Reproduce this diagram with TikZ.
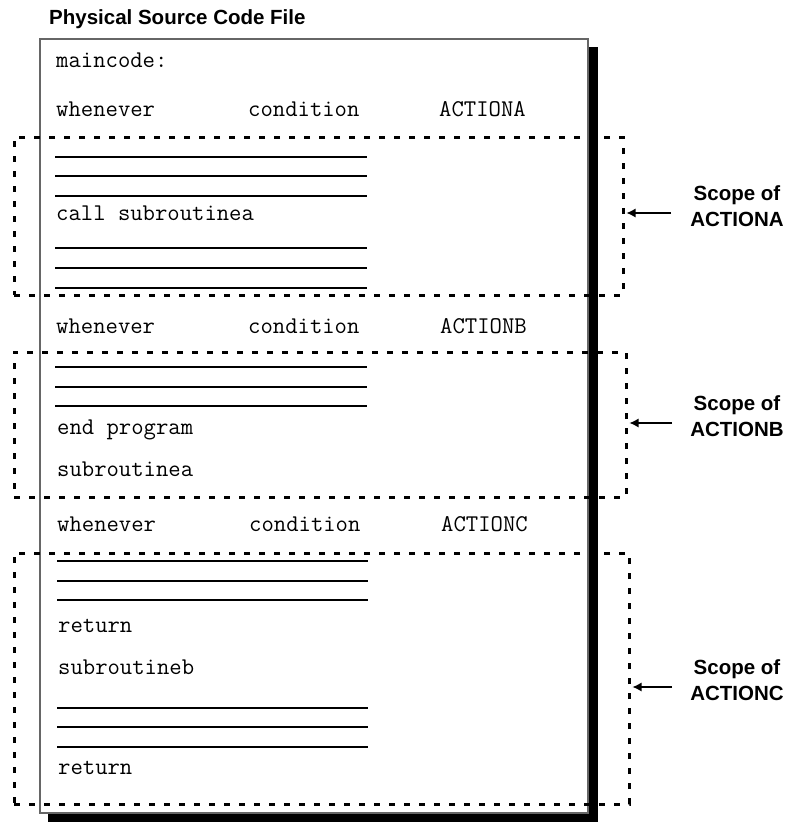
\documentclass[tikz,border=0pt]{standalone}
\usepackage{fontspec}
\setmainfont{Liberation Sans}
\usetikzlibrary{arrows.meta}
\begin{document}
\begin{tikzpicture}[x=1pt,y=-1pt,
  code/.style={font=\ttfamily\fontsize{24}{28}\selectfont, anchor=base west, inner sep=0pt},
  lbl/.style={font=\bfseries\fontsize{20.5}{26}\selectfont, anchor=base, inner sep=0pt},
  rule/.style={line width=1.8pt},
  filebox/.style={draw=black!60, fill=white, line width=1.4pt, inner sep=0pt},
  scopebox/.style={draw, line width=3pt, dash pattern=on 6pt off 9pt, inner sep=0pt},
  pointer/.style={line width=1.2pt, -{Latex[length=9pt,width=9pt]}, shorten >=2pt}
]
\useasboundingbox (0,0) rectangle (790,823);

% title
\node[lbl, anchor=base west] (title) at (49,24) {Physical Source Code File};

% file page with drop shadow
\fill (48,47) rectangle (598,822);
\node[filebox, minimum width=548pt, minimum height=774pt] (file) at (314,426) {};

% scope regions
\node[scopebox, minimum width=609pt, minimum height=158pt] (scA) at (318.5,216) {};
\node[scopebox, minimum width=612pt, minimum height=145pt] (scB) at (320,424.5) {};
\node[scopebox, minimum width=615pt, minimum height=251pt] (scC) at (321.5,678.5) {};

% code listing
\node[code] (mc) at (56,67) {maincode:};

\node[code] (wA) at (56,116) {whenever};
\node[code] (cA) at (248,116) {condition};
\node[code] (aA) at (439,116) {ACTIONA};
\foreach \y in {157,176,196} \draw[rule] (55,\y) -- (367,\y);
\node[code] (callA) at (56,220) {call subroutinea};
\foreach \y in {248,268,288} \draw[rule] (55,\y) -- (367,\y);

\node[code] (wB) at (56,333) {whenever};
\node[code] (cB) at (248,333) {condition};
\node[code] (aB) at (440,333) {ACTIONB};
\foreach \y in {367,387,406} \draw[rule] (55,\y) -- (367,\y);
\node[code] (endp) at (57,434) {end program};
\node[code] (subA) at (57,476) {subroutinea};

\node[code] (wC) at (57,531) {whenever};
\node[code] (cC) at (249,531) {condition};
\node[code] (aC) at (441,531) {ACTIONC};
\foreach \y in {561,581,600} \draw[rule] (57,\y) -- (368,\y);
\node[code] (ret1) at (58,632) {return};
\node[code] (subB) at (58,674) {subroutineb};
\foreach \y in {708,727,747} \draw[rule] (57,\y) -- (368,\y);
\node[code] (ret2) at (58,774) {return};

% scope labels and pointers
\node[lbl] (labA1) at (737,200) {Scope of};
\node[lbl] (labA2) at (737,226) {ACTIONA};
\coordinate (tailA) at (671,213);
\draw[pointer] (tailA) -- (tailA -| scA.east);

\node[lbl] (labB1) at (737,410) {Scope of};
\node[lbl] (labB2) at (737,436) {ACTIONB};
\coordinate (tailB) at (672,423);
\draw[pointer] (tailB) -- (tailB -| scB.east);

\node[lbl] (labC1) at (737,674) {Scope of};
\node[lbl] (labC2) at (737,700) {ACTIONC};
\coordinate (tailC) at (672,687);
\draw[pointer] (tailC) -- (tailC -| scC.east);
\end{tikzpicture}
\end{document}
